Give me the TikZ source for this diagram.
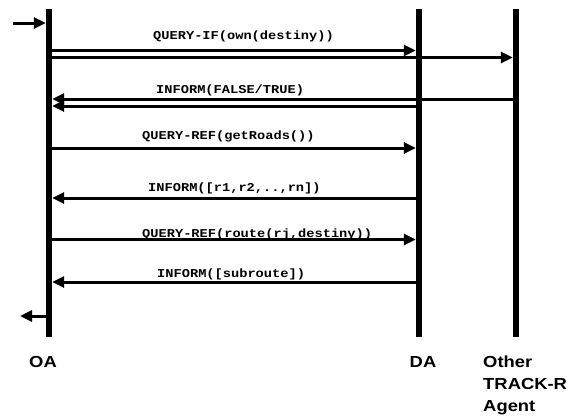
\documentclass[tikz,border=0pt]{standalone}
\usepackage{fontspec}
\setmainfont{Liberation Sans}
\setmonofont{Liberation Mono}
\usetikzlibrary{arrows.meta}
\tikzstyle{lifeline}=[fill=black, inner sep=0, minimum width=6pt, minimum height=328pt, anchor=north]
\tikzstyle{message}=[line width=3pt, -{Triangle[length=12pt, width=11pt]}]
\tikzstyle{message label}=[font=\ttfamily\bfseries\fontsize{12}{14}\selectfont, xscale=1.14, transform shape, inner sep=0, anchor=base west]
\tikzstyle{agent label}=[font=\bfseries\fontsize{16}{22}\selectfont, xscale=1.15, transform shape, inner sep=0, align=left]

\begin{document}
\begin{tikzpicture}[x=1pt, y=-1pt]
  \useasboundingbox (0,0) rectangle (577,415);

  \node[lifeline] (oa) at (49, 9) {};
  \node[lifeline] (da) at (419, 9) {};
  \node[lifeline] (other) at (516, 9) {};

  \coordinate (row_in) at (13, 23);
  \coordinate (row_if_da) at (0, 50.5);
  \coordinate (row_if_other) at (0, 57.5);
  \coordinate (row_inform_other) at (0, 99);
  \coordinate (row_inform_da) at (0, 106);
  \coordinate (row_roads) at (0, 148);
  \coordinate (row_roads_reply) at (0, 198);
  \coordinate (row_route) at (0, 239.5);
  \coordinate (row_route_reply) at (0, 282);
  \coordinate (row_out) at (20, 316);

  \draw[message] (row_in) -- (oa.west |- row_in);
  \draw[message] (oa.east |- row_if_da) -- (da.west |- row_if_da);
  \draw[message] (oa.east |- row_if_other) -- (other.west |- row_if_other);
  \draw[message] (other.west |- row_inform_other) -- (oa.east |- row_inform_other);
  \draw[message] (da.west |- row_inform_da) -- (oa.east |- row_inform_da);
  \draw[message] (oa.east |- row_roads) -- (da.west |- row_roads);
  \draw[message] (da.west |- row_roads_reply) -- (oa.east |- row_roads_reply);
  \draw[message] (oa.east |- row_route) -- (da.west |- row_route);
  \draw[message] (da.west |- row_route_reply) -- (oa.east |- row_route_reply);
  \draw[message] (oa.west |- row_out) -- (row_out);

  \node[message label] (query_if) at (153, 39) {QUERY-IF(own(destiny))};
  \node[message label] (inform_bool) at (156, 93.5) {INFORM(FALSE/TRUE)};
  \node[message label] (query_roads) at (142, 139.5) {QUERY-REF(getRoads())};
  \node[message label] (inform_roads) at (148, 191.5) {INFORM([r1,r2,..,rn])};
  \node[message label] (query_route) at (142, 237) {QUERY-REF(route(rj,destiny))};
  \node[message label] (inform_route) at (157, 277.5) {INFORM([subroute])};

  \node[agent label, anchor=base] (oa_label) at (43, 367) {OA};
  \node[agent label, anchor=base] (da_label) at (423, 367) {DA};
  \node[agent label, anchor=base west] (other_label) at (483, 411) {Other\\TRACK-R\\Agent};
\end{tikzpicture}
\end{document}
